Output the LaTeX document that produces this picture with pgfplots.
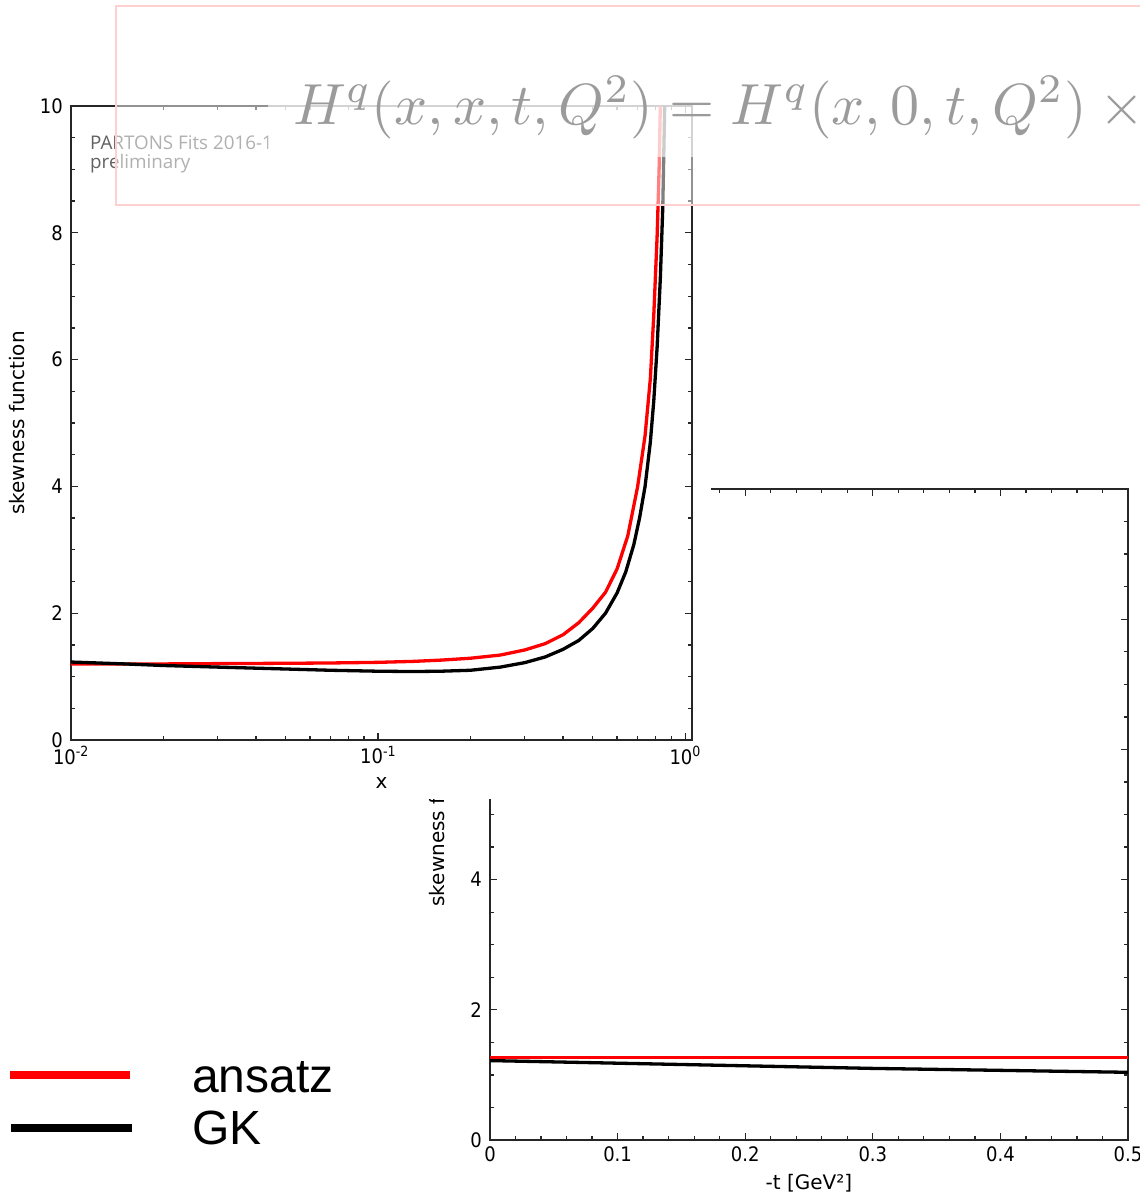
\documentclass[border=0pt]{standalone}
\usepackage{fontspec}
\usepackage{graphicx}
\usepackage{pgfplots}
\pgfplotsset{compat=1.18}

\newfontfamily\labfont{DejaVu Sans}
\newfontfamily\tickfont{DejaVu Sans Condensed}
\newfontfamily\wmfont{Open Sans}
\newfontfamily\legfont{Liberation Sans}

\definecolor{ansatzred}{RGB}{255,0,0}
\definecolor{boxpink}{RGB}{255,208,208}
\definecolor{formulagray}{RGB}{155,155,155}

% skewness in x (log axis)
\pgfplotstableread{
x      s
0.01   1.20
0.015  1.20
0.02   1.20
0.03   1.205
0.05   1.21
0.07   1.215
0.10   1.225
0.13   1.24
0.16   1.26
0.20   1.29
0.25   1.34
0.30   1.42
0.35   1.52
0.40   1.66
0.45   1.85
0.50   2.08
0.55   2.33
0.60   2.70
0.65   3.22
0.70   4.00
0.74   4.80
0.77   5.70
0.79   6.70
0.81   7.95
0.822  9.00
0.832  10.30
}\ansatzx

\pgfplotstableread{
x      s
0.01   1.23
0.015  1.20
0.02   1.175
0.03   1.15
0.05   1.12
0.07   1.10
0.10   1.085
0.13   1.08
0.16   1.085
0.20   1.10
0.25   1.15
0.30   1.22
0.35   1.31
0.40   1.43
0.45   1.57
0.50   1.76
0.55   2.00
0.60   2.32
0.64   2.65
0.68   3.08
0.71   3.50
0.74   4.00
0.77   4.70
0.79   5.35
0.81   6.20
0.83   7.30
0.845  8.40
0.855  9.70
0.862  10.60
}\gkx

% skewness in -t, lower plot
\pgfplotstableread{
t     s
0.0   1.27
0.5   1.27
}\ansatzt

\pgfplotstableread{
t     s
0.0   1.22
0.1   1.18
0.2   1.14
0.3   1.10
0.4   1.07
0.5   1.04
}\gkt

\pgfplotsset{
  skewstyle/.style={
    scale only axis,
    axis line style={black!85, line width=1.8pt},
    tick style={black!85, line width=1.3pt},
    major tick length=7pt,
    minor tick length=4pt,
    tick align=inside,
    ymin=0, ymax=10,
    ytick={0,2,4,6,8,10},
    minor y tick num=3,
    /pgf/number format/assume math mode=true,
    ticklabel style={font=\tickfont\fontsize{20}{20}\selectfont, inner sep=0pt},
    xticklabel style={yshift=-6pt},
    yticklabel style={xshift=-8pt},
    label style={font=\labfont\fontsize{20}{20}\selectfont},
  },
}

\begin{document}
\begin{tikzpicture}
\clip (0pt,0pt) rectangle (1140pt,-1194pt);
\fill[white] (0pt,0pt) rectangle (1140pt,-1194pt);

% lower plot (t dependence)
\begin{axis}[skewstyle,
  at={(490pt,-1140pt)}, anchor=south west,
  width=638pt, height=651pt,
  xmin=0, xmax=0.5,
  xtick={0,0.1,0.2,0.3,0.4,0.5},
  minor x tick num=4,
  xlabel={-t [GeV²]},
  ylabel={skewness function},
  xlabel style={at={(axis description cs:0.5,-0.066)}, anchor=center},
  ylabel style={at={(axis description cs:-0.083,0.5)}, anchor=center},
]
\addplot[ansatzred, line width=3.3pt] table[x=t, y=s] {\ansatzt};
\addplot[black, line width=3.3pt] table[x=t, y=s] {\gkt};
\end{axis}

% upper plot covers the lower one
\fill[white] (0pt,0pt) rectangle (711pt,-799pt);

\begin{axis}[skewstyle,
  at={(71pt,-740pt)}, anchor=south west,
  width=621pt, height=634pt,
  xmode=log, xmin=0.01, xmax=1.052,
  xtick={0.01,0.1,1},
  minor xtick={0.02,0.03,0.04,0.05,0.06,0.07,0.08,0.09,0.2,0.3,0.4,0.5,0.6,0.7,0.8,0.9},
  xticklabels={10\textsuperscript{-2},10\textsuperscript{-1},10\textsuperscript{0}},
  xlabel={x},
  ylabel={skewness function},
  xlabel style={at={(axis description cs:0.5,-0.068)}, anchor=center},
  ylabel style={at={(axis description cs:-0.087,0.5)}, anchor=center},
]
\addplot[ansatzred, line width=3.3pt, line join=round] table[x=x, y=s] {\ansatzx};
\addplot[black, line width=3.3pt, line join=round] table[x=x, y=s] {\gkx};
\end{axis}

\begin{scope}[x=1pt, y=-1pt]
\node[anchor=base west, inner sep=0pt, text=black!62, font=\wmfont\fontsize{18.8}{20}\selectfont] at (90,149) {PARTONS Fits 2016-1};
\node[anchor=base west, inner sep=0pt, text=black!62, font=\wmfont\fontsize{18.8}{20}\selectfont] at (90,168) {preliminary};

% translucent formula banner
\fill[white, fill opacity=0.5] (116,6) rectangle (1160,205);
\fill[white, fill opacity=0.6] (268,40) rectangle (1160,157);
\draw[boxpink, line width=2.5pt] (116,6) rectangle (1170,205);
\node[anchor=base west, inner sep=0pt, text=formulagray] at (293,124)
  {\scalebox{5.8}{$H^q(x,x,t,Q^2) = H^q(x,0,t,Q^2) \times {}$}};

% legend
\draw[ansatzred, line width=8pt] (10,1075) -- (130,1075);
\draw[black, line width=8pt] (11,1128) -- (132,1128);
\node[anchor=base west, inner sep=0pt, font=\legfont\fontsize{48}{48}\selectfont] at (192,1092) {ansatz};
\node[anchor=base west, inner sep=0pt, font=\legfont\fontsize{48}{48}\selectfont] at (192,1144) {GK};
\end{scope}
\end{tikzpicture}
\end{document}
